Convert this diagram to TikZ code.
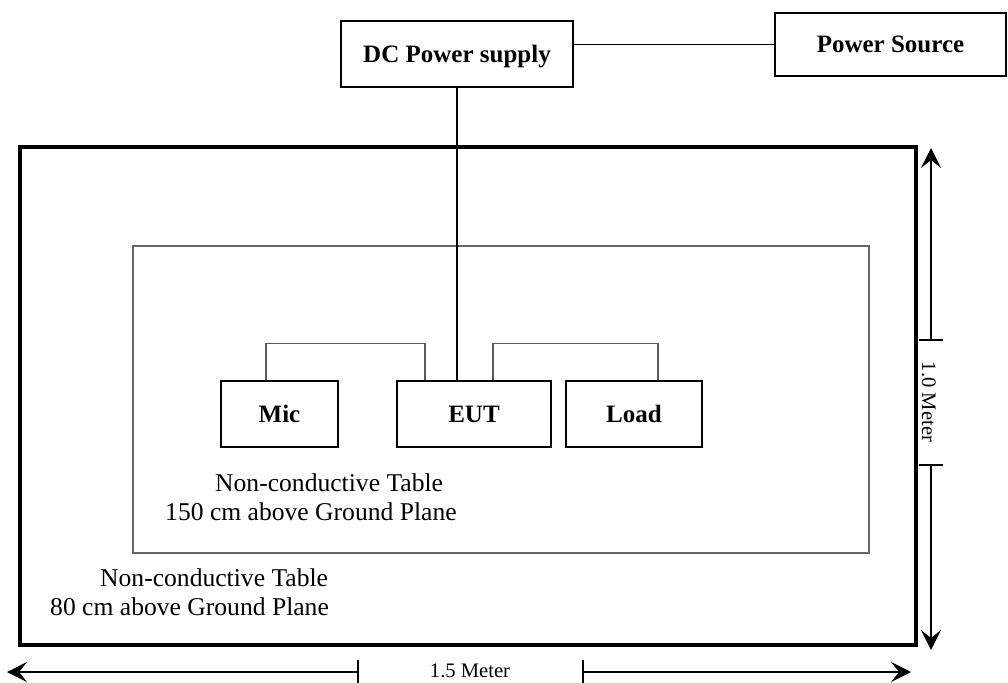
\documentclass[tikz,border=0pt]{standalone}
\usepackage{fontspec}
\setmainfont{Liberation Serif}
\usetikzlibrary{arrows.meta}
\tikzset{
  box/.style={draw, line width=1.8pt, inner sep=0pt, text depth=0pt,
    font=\fontsize{25}{28}\selectfont\bfseries},
  wire/.style={draw=black!65, line width=1.2pt},
  feed/.style={draw, line width=1.6pt},
  dimline/.style={line width=1.5pt},
  dimtip/.style={-{Stealth[length=20pt,width=20pt,inset=8pt]}},
  note/.style={inner sep=0pt, font=\fontsize{25.6}{29}\selectfont},
  dimlabel/.style={inner sep=0pt, text depth=0pt, font=\fontsize{20.6}{23}\selectfont},
}
\begin{document}
\begin{tikzpicture}[x=1pt,y=-1pt]
\useasboundingbox (0,0) rectangle (1008,682);
% tables
\draw[line width=3.5pt] (20,147) rectangle (916,645);
\draw[draw=black!60, line width=1.1pt] (133,246) rectangle (869,553);
% boxes
\node[box, minimum width=232pt, minimum height=66pt] (dc) at (457,54) {DC Power supply};
\node[box, minimum width=231pt, minimum height=63pt] (ps) at (890.5,44.5) {Power Source};
\node[box, minimum width=117pt, minimum height=66pt] (mic) at (279.5,414) {Mic};
\node[box, minimum width=154pt, minimum height=66pt] (eut) at (474,414) {EUT};
\node[box, minimum width=136pt, minimum height=66pt] (load) at (634,414) {Load};
% connectors
\draw[feed, line width=1.3pt] (ps.west) -- (ps.west -| dc.east);
\draw[feed] (dc.south) -- (dc.south |- eut.north);
\draw[wire] ([xshift=-13.5pt]mic.north) -- ++(0,-37) -| ([xshift=-49pt]eut.north);
\draw[wire] ([xshift=19pt]eut.north) -- ++(0,-37) -| ([xshift=24pt]load.north);
% texts
\node[note, anchor=base west] (t1a) at (215,491) {Non-conductive Table};
\node[note, anchor=base west] (t1b) at (165,520) {150 cm above Ground Plane};
\node[note, anchor=base west] (t2a) at (100,586) {Non-conductive Table};
\node[note, anchor=base west] (t2b) at (50,615) {80 cm above Ground Plane};
% bottom dimension
\coordinate (bl) at (7,672);
\coordinate (blt) at (358,672);
\coordinate (brt) at (583,672);
\coordinate (br) at (911,672);
\draw[dimline, dimtip] (blt) -- (bl);
\draw[dimline, dimtip] (brt) -- (br);
\draw[dimline] ([yshift=12pt]blt) -- ([yshift=-12pt]blt);
\draw[dimline] ([yshift=12pt]brt) -- ([yshift=-12pt]brt);
\node[dimlabel] (w) at (470,671) {1.5 Meter};
% right dimension
\coordinate (rt) at (931,148);
\coordinate (rtt) at (931,340);
\coordinate (rbt) at (931,465);
\coordinate (rb) at (931,650);
\draw[dimline, dimtip] (rtt) -- (rt);
\draw[dimline, dimtip] (rbt) -- (rb);
\draw[dimline] ([xshift=-12pt]rtt) -- ([xshift=12pt]rtt);
\draw[dimline] ([xshift=-12pt]rbt) -- ([xshift=12pt]rbt);
\node[dimlabel, rotate=-90] (h) at (929,402) {1.0 Meter};
\end{tikzpicture}
\end{document}
